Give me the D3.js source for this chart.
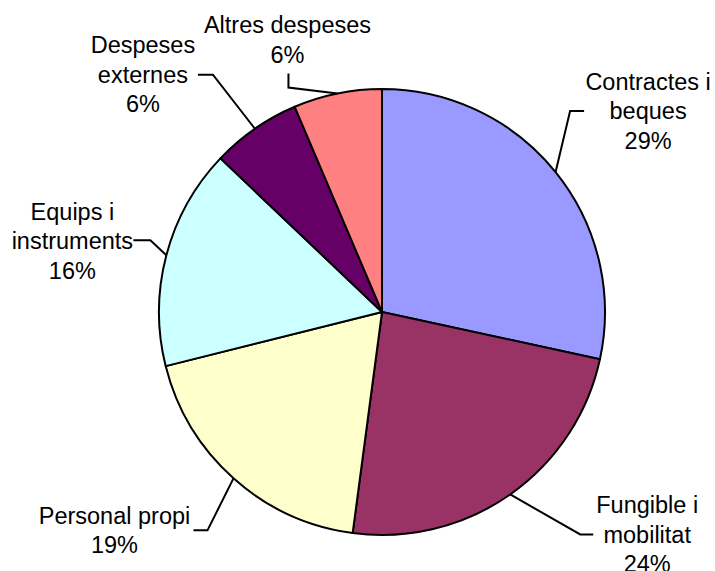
<!DOCTYPE html>
<html>
<head>
<meta charset="utf-8">
<script src="https://cdn.jsdelivr.net/npm/d3@7"></script>
<style>
  html, body { margin: 0; padding: 0; background: #fff; }
  svg { display: block; }
  text { font-family: Arial, "Liberation Sans", sans-serif; fill: #000; }
</style>
</head>
<body>
<svg id="chart" width="715" height="571"></svg>
<script>
// ---- data ----
const categories = ["Contractes i beques", "Fungible i mobilitat", "Personal propi", "Equips i instruments", "Despeses externes", "Altres despeses"];
const values = [28.4, 23.7, 19.0, 16.0, 6.5, 6.4];
const percentLabels = ["29%", "24%", "19%", "16%", "6%", "6%"];
const labelLines = [["Contractes i", "beques"], ["Fungible i", "mobilitat"], ["Personal propi"], ["Equips i", "instruments"], ["Despeses", "externes"], ["Altres despeses"]];
const colors = ["#9999FF", "#993366", "#FFFFCC", "#CCFFFF", "#660066", "#FF8080"];

// ---- layout (leader lines: elbow offset from arc anchor, end offset from elbow, text block offset from end) ----
const leaderLayout = [
  { elbow: [14.5, -61], end: [14, 0], text: [64, 0] },
  { elbow: [70, 40], end: [13, 0], text: [54, 0] },
  { elbow: [-26, 52], end: [-14, 0], text: [-79, 0] },
  { elbow: [-16, -15], end: [-17, 0], text: [-61, 1] },
  { elbow: [-42, -54], end: [-15, 0], text: [-55, 0] },
  { elbow: [-49, -6], end: [0, -14], text: [-1, -33.5] }
];

const cx = 382, cy = 312, R = 223;
const fontSize = 23.5, lineH = 29.5;

const svg = d3.select("#chart");
const g = svg.append("g").attr("transform", `translate(${cx},${cy})`);

const pie = d3.pie().sort(null).value(d => d.value);
const data = categories.map((c, i) => ({ name: c, value: values[i], pct: percentLabels[i], lines: labelLines[i], color: colors[i], layout: leaderLayout[i] }));
const arcs = pie(data);
const arc = d3.arc().innerRadius(0).outerRadius(R);

g.selectAll("path.slice")
  .data(arcs)
  .join("path")
  .attr("class", "slice")
  .attr("d", arc)
  .attr("fill", d => d.data.color)
  .attr("stroke", "#000")
  .attr("stroke-width", 2)
  .attr("stroke-linejoin", "round");

arcs.forEach(d => {
  const mid = (d.startAngle + d.endAngle) / 2;
  const ax = R * Math.sin(mid), ay = -R * Math.cos(mid);
  const L = d.data.layout;
  const ex = ax + L.elbow[0], ey = ay + L.elbow[1];
  const fx = ex + L.end[0], fy = ey + L.end[1];
  g.append("polyline")
    .attr("points", [[ax, ay], [ex, ey], [fx, fy]].map(p => p.join(",")).join(" "))
    .attr("fill", "none")
    .attr("stroke", "#000")
    .attr("stroke-width", 2);

  const lines = d.data.lines.concat([d.data.pct]);
  const tx = fx + L.text[0], tyc = fy + L.text[1];
  const top = tyc - (lines.length - 1) * lineH / 2;
  const t = g.append("text")
    .attr("text-anchor", "middle")
    .attr("font-size", fontSize);
  lines.forEach((ln, i) => {
    t.append("tspan")
      .attr("x", tx)
      .attr("y", top + i * lineH)
      .attr("dy", "0.35em")
      .text(ln);
  });
});
</script>
</body>
</html>
